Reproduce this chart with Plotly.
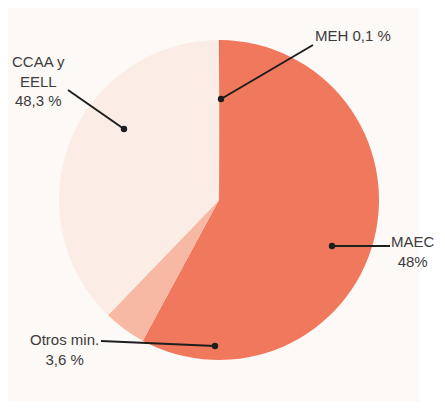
import plotly.graph_objects as go

# the page body adds an 8px margin, so the figure starts at (8, 8)
OFF = 8
W, H = 445 - OFF, 410 - 2 * OFF

# slices in clockwise order from 12 o'clock (shares as drawn)
labels = ["MEH", "MAEC", "Otros min.", "CCAA y EELL"]
values = [0.1, 57.8, 4.3, 37.8]
colors = ["#e8644a", "#f0785c", "#f7b9a4", "#fcece6"]

# label texts shown in the callouts
label_texts = ["MEH 0,1 %", "MAEC<br>48%", "Otros min.<br>3,6 %", "CCAA y<br>EELL<br>48,3 %"]


def px(x):
    return (x - OFF) / W


def py(y):
    return 1 - (y - OFF) / H


fig = go.Figure()
fig.add_trace(go.Pie(
    labels=labels, values=values, sort=False, direction="clockwise", rotation=0,
    marker=dict(colors=colors, line=dict(width=0)),
    textinfo="none", hoverinfo="label+percent", showlegend=False,
    domain=dict(x=[px(59), px(379)], y=[py(360), py(40)]),
))

shapes = [dict(type="rect", xref="paper", yref="paper", x0=px(8), x1=px(419), y0=0, y1=1,
               fillcolor="#fdf9f7", line=dict(width=0), layer="below")]

# callouts: (dot x, dot y, line end x, line end y, text x, text y)
callouts = [
    (221, 99, 313, 45, 353, 36),
    (332, 246, 390, 246, 413, 251),
    (215, 346, 101, 341, 64, 349),
    (124, 129, 68, 90, 38, 81),
]
annotations = []
for (dx, dy, ex, ey, tx, ty), t in zip(callouts, label_texts):
    shapes.append(dict(type="line", xref="paper", yref="paper", x0=px(dx), y0=py(dy), x1=px(ex), y1=py(ey),
                       line=dict(color="#1e1e1e", width=2)))
    shapes.append(dict(type="circle", xref="paper", yref="paper", x0=px(dx - 3.2), x1=px(dx + 3.2),
                       y0=py(dy + 3.2), y1=py(dy - 3.2), fillcolor="#1e1e1e", line=dict(width=0)))
    annotations.append(dict(x=px(tx), y=py(ty), xref="paper", yref="paper", text=t, showarrow=False,
                            xanchor="center", yanchor="middle", align="center",
                            font=dict(size=15, color="#3c3c3c", family="Liberation Sans, Arial")))

fig.update_layout(
    width=W, height=H,
    margin=dict(l=0, r=0, t=0, b=0),
    paper_bgcolor="white", plot_bgcolor="white",
    shapes=shapes, annotations=annotations,
)

fig.write_html("out.html")
